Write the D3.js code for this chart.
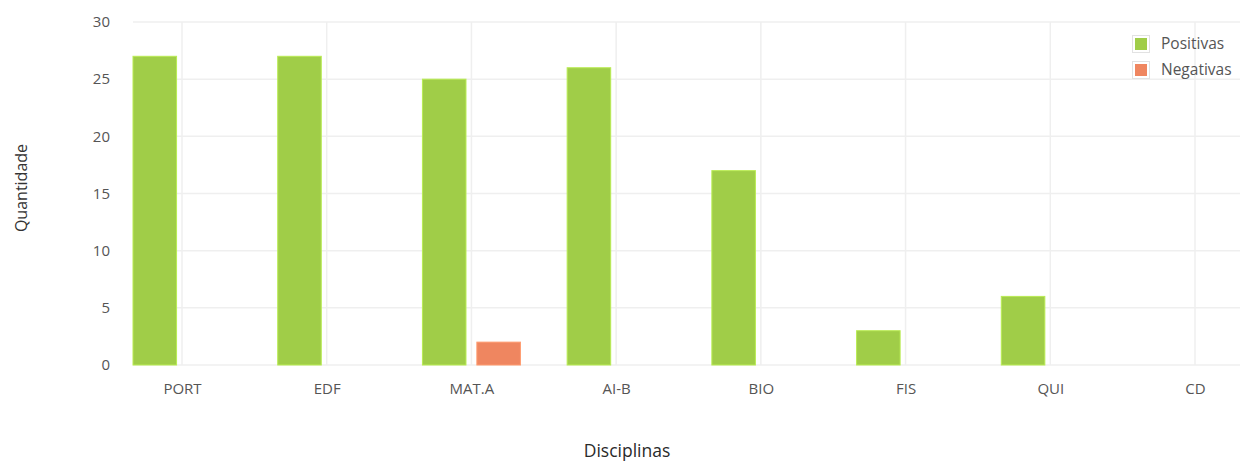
<!DOCTYPE html>
<html>
<head>
<meta charset="utf-8">
<script src="https://cdn.jsdelivr.net/npm/d3@7/dist/d3.min.js"></script>
<style>
  html, body { margin: 0; padding: 0; background: #fff; }
  svg { display: block; font-family: "Open Sans", "Noto Sans", sans-serif; }
</style>
</head>
<body>
<svg id="chart" width="1240" height="461"></svg>
<script>
const categories = ["PORT", "EDF", "MAT.A", "AI-B", "BIO", "FIS", "QUI", "CD"];
const positivas = [27, 27, 25, 26, 17, 3, 6, 0];
const negativas = [0, 0, 2, 0, 0, 0, 0, 0];
const seriesNames = ["Positivas", "Negativas"];
const seriesColors = ["#a0cd48", "#ef8660"];
const yTicks = [0, 5, 10, 15, 20, 25, 30];

const svg = d3.select("#chart");
const plot = { left: 133, right: 1240, top: 22, bottom: 365 };

const x = d3.scalePoint().domain(categories).range([182, 1195]);
const xs = d3.scaleBand().domain(seriesNames).range([-49, 49]).paddingInner(0.2);
const y = d3.scaleLinear().domain([0, 30]).range([plot.bottom, plot.top]);

// horizontal gridlines
svg.append("g").selectAll("line").data(yTicks).join("line")
  .attr("x1", plot.left).attr("x2", plot.right)
  .attr("y1", d => y(d)).attr("y2", d => y(d))
  .attr("stroke", "#efefef").attr("stroke-width", 1.5);

// vertical gridlines
svg.append("g").selectAll("line").data(categories).join("line")
  .attr("x1", d => x(d)).attr("x2", d => x(d))
  .attr("y1", plot.top).attr("y2", plot.bottom)
  .attr("stroke", "#efefef").attr("stroke-width", 1.5);

// y-axis tick labels
const yAxis = d3.axisLeft(y).tickValues(yTicks).tickSize(0).tickPadding(0);
const gy = svg.append("g").attr("transform", "translate(110,0)").call(yAxis);
gy.select(".domain").remove();
gy.selectAll("text").attr("fill", "#555").style("font-size", "15px")
  .style("font-family", "'Open Sans', sans-serif");

// x-axis labels
const xAxis = d3.axisBottom(x).tickSize(0).tickPadding(0);
const gx = svg.append("g").attr("transform", `translate(0,${plot.bottom})`).call(xAxis);
gx.select(".domain").remove();
gx.selectAll("text").attr("fill", "#555").attr("y", 29).attr("dy", 0)
  .style("font-size", "15px")
  .style("font-family", "'Open Sans', sans-serif");

// bars
const data = categories.map((c, i) => ({ c, vals: [positivas[i], negativas[i]] }));
const groups = svg.append("g").selectAll("g").data(data).join("g")
  .attr("transform", d => `translate(${x(d.c)},0)`);
groups.selectAll("rect")
  .data(d => d.vals.map((v, j) => ({ v, s: seriesNames[j], j })).filter(e => e.v > 0))
  .join("rect")
  .attr("x", e => xs(e.s))
  .attr("width", xs.bandwidth())
  .attr("y", e => y(e.v))
  .attr("height", e => y(0) - y(e.v))
  .attr("fill", e => seriesColors[e.j])
  .attr("stroke", e => d3.color(seriesColors[e.j]).brighter(0.4))
  .attr("stroke-width", 1);

// legend
const legend = svg.append("g").attr("transform", "translate(1132,35)");
const li = legend.selectAll("g").data(seriesNames).join("g")
  .attr("transform", (d, i) => `translate(0,${i * 26})`);
li.append("rect").attr("x", 0.5).attr("y", 0.5).attr("width", 17).attr("height", 17)
  .attr("fill", "#fff").attr("stroke", "#e2e2e2");
li.append("rect").attr("x", 3).attr("y", 3).attr("width", 12).attr("height", 12)
  .attr("fill", (d, i) => seriesColors[i]);
li.append("text").attr("x", 29).attr("y", 9).attr("dy", "0.35em")
  .attr("fill", "#555").style("font-size", "15.5px").text(d => d);

// axis titles
svg.append("text")
  .attr("transform", "translate(27,188) rotate(-90)")
  .attr("text-anchor", "middle").attr("fill", "#333").style("font-size", "16px")
  .text("Quantidade");
svg.append("text")
  .attr("x", 627).attr("y", 457)
  .attr("text-anchor", "middle").attr("fill", "#2a2a2a").style("font-size", "17.5px")
  .text("Disciplinas");
</script>
</body>
</html>
